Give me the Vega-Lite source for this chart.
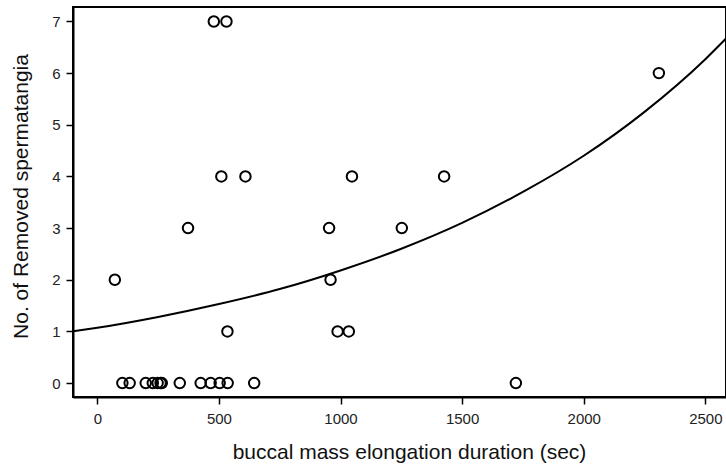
{
  "$schema": "https://vega.github.io/schema/vega-lite/v6.json",
  "autosize": "none",
  "padding": {"left": 73, "top": 7, "right": 0, "bottom": 76},
  "width": 653,
  "height": 390,
  "background": "white",
  "config": {
    "view": {"stroke": "black", "strokeWidth": 2},
    "font": "Liberation Sans",
    "axis": {
      "grid": false,
      "domainColor": "black",
      "domainWidth": 2,
      "tickColor": "black",
      "tickWidth": 1.5,
      "tickSize": 7,
      "labelFont": "Liberation Sans",
      "labelFontSize": 15,
      "labelColor": "#222",
      "titleFont": "Liberation Sans",
      "titleFontSize": 21,
      "titleFontWeight": "normal",
      "titleColor": "#111"
    }
  },
  "datasets": {
    "pts": [
      {"dur": 479, "n": 7}, {"dur": 531, "n": 7},
      {"dur": 2309, "n": 6},
      {"dur": 510, "n": 4}, {"dur": 609, "n": 4}, {"dur": 1047, "n": 4}, {"dur": 1426, "n": 4},
      {"dur": 373, "n": 3}, {"dur": 953, "n": 3}, {"dur": 1252, "n": 3},
      {"dur": 72, "n": 2}, {"dur": 959, "n": 2},
      {"dur": 535, "n": 1}, {"dur": 988, "n": 1}, {"dur": 1034, "n": 1},
      {"dur": 103, "n": 0}, {"dur": 133, "n": 0}, {"dur": 199, "n": 0}, {"dur": 228, "n": 0},
      {"dur": 248, "n": 0}, {"dur": 260, "n": 0}, {"dur": 265, "n": 0}, {"dur": 339, "n": 0},
      {"dur": 425, "n": 0}, {"dur": 466, "n": 0}, {"dur": 503, "n": 0}, {"dur": 536, "n": 0},
      {"dur": 645, "n": 0}, {"dur": 1721, "n": 0}
    ],
    "fit": [
      {"dur": -100, "n": 1.0}, {"dur": 0, "n": 1.07}, {"dur": 250, "n": 1.28},
      {"dur": 500, "n": 1.53}, {"dur": 750, "n": 1.82}, {"dur": 1000, "n": 2.18},
      {"dur": 1250, "n": 2.6}, {"dur": 1500, "n": 3.1}, {"dur": 1750, "n": 3.7},
      {"dur": 2000, "n": 4.4}, {"dur": 2250, "n": 5.25}, {"dur": 2500, "n": 6.27},
      {"dur": 2585, "n": 6.67}
    ]
  },
  "layer": [
    {
      "data": {"name": "fit"},
      "mark": {"type": "line", "color": "black", "strokeWidth": 2, "interpolate": "monotone", "clip": true},
      "encoding": {
        "x": {"field": "dur", "type": "quantitative"},
        "y": {"field": "n", "type": "quantitative"}
      }
    },
    {
      "data": {"name": "pts"},
      "mark": {"type": "point", "shape": "circle", "filled": false, "color": "black", "strokeWidth": 2, "size": 110, "opacity": 1},
      "encoding": {
        "x": {
          "field": "dur", "type": "quantitative",
          "scale": {"domain": [-100, 2585], "nice": false, "zero": false},
          "axis": {"values": [0, 500, 1000, 1500, 2000, 2500], "format": "d", "title": "buccal mass elongation duration (sec)", "labelPadding": 7, "titlePadding": 15, "titleX": 336}
        },
        "y": {
          "field": "n", "type": "quantitative",
          "scale": {"domain": [-0.27, 7.28], "nice": false, "zero": false},
          "axis": {"values": [0, 1, 2, 3, 4, 5, 6, 7], "format": "d", "title": "No. of Removed spermatangia", "labelPadding": 6, "titlePadding": 20, "titleY": 189}
        }
      }
    }
  ]
}
